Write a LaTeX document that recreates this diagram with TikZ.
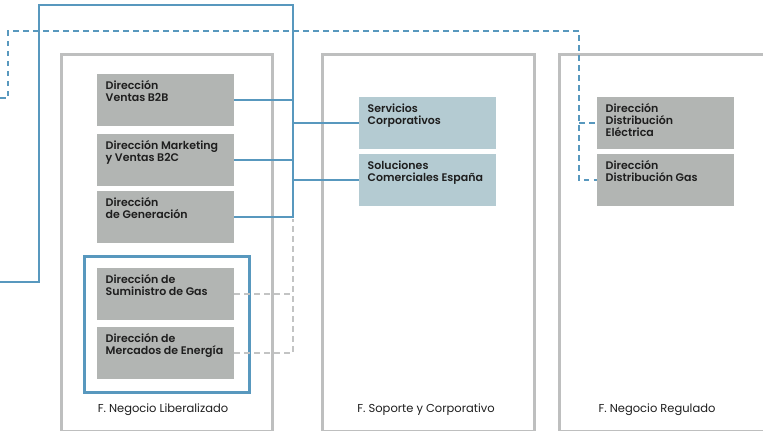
\documentclass[tikz,border=0pt]{standalone}
\usepackage{fontspec}
\setmainfont{Poppins}
\newfontfamily\boxfont{Poppins}[UprightFont=* SemiBold]
\definecolor{boxgray}{RGB}{178,181,179}
\definecolor{boxblue}{RGB}{180,203,210}
\definecolor{lineblue}{RGB}{88,152,190}
\definecolor{colgray}{RGB}{190,191,191}
\definecolor{dashgray}{RGB}{195,196,196}
\definecolor{txt}{RGB}{30,30,30}
\tikzset{
  colbox/.style={draw=colgray, line width=2.5pt},
  dirbox/.style={fill=boxgray, draw=none, minimum width=137pt, minimum height=52pt, inner sep=0pt},
  corpbox/.style={fill=boxblue, draw=none, minimum width=137pt, minimum height=52pt, inner sep=0pt},
  boxtext/.style={anchor=north west, align=left, inner sep=0pt, font=\boxfont\fontsize{11}{11.8}\selectfont, text=txt},
  coltext/.style={inner sep=0pt, font=\fontsize{11.5}{13}\selectfont, text=txt},
  blueline/.style={draw=lineblue, line width=2.5pt},
  bluedot/.style={draw=lineblue, line width=2.5pt, dash pattern=on 5.5pt off 4.5pt},
  graydot/.style={draw=dashgray, line width=2.5pt, dash pattern=on 5.5pt off 4.5pt}
}
\begin{document}
\begin{tikzpicture}[x=1pt,y=-1pt]
\useasboundingbox (0,0) rectangle (763,431);
% columns
\node[colbox, minimum width=211pt, minimum height=377pt, anchor=north west, inner sep=0pt] (colL) at (60,53) {};
\node[colbox, minimum width=212pt, minimum height=377pt, anchor=north west, inner sep=0pt] (colM) at (321,53) {};
\node[colbox, minimum width=215pt, minimum height=377pt, anchor=north west, inner sep=0pt] (colR) at (558,53) {};
\node[coltext] (labL) at (163,410) {F. Negocio Liberalizado};
\node[coltext] (labM) at (426,410) {F. Soporte y Corporativo};
\node[coltext] (labR) at (657,410) {F. Negocio Regulado};
% blue frame
\node[draw=lineblue, line width=2.5pt, minimum width=165pt, minimum height=136pt, anchor=north west, inner sep=0pt] (gasframe) at (83,255) {};
% left boxes
\node[dirbox, anchor=north west] (b2b) at (97,74) {};
\node[dirbox, anchor=north west] (b2c) at (97,134) {};
\node[dirbox, anchor=north west] (gen) at (97,191) {};
\node[dirbox, anchor=north west] (sum) at (97,268) {};
\node[dirbox, anchor=north west] (mer) at (97,327) {};
\node[boxtext] (tb2b) at ([shift={(8.5pt,-6.5pt)}]b2b.north west) {Dirección\\Ventas B2B};
\node[boxtext] (tb2c) at ([shift={(8.5pt,-6.5pt)}]b2c.north west) {Dirección Marketing\\y Ventas B2C};
\node[boxtext] (tgen) at ([shift={(8.5pt,-6.5pt)}]gen.north west) {Dirección\\de Generación};
\node[boxtext] (tsum) at ([shift={(8.5pt,-6.5pt)}]sum.north west) {Dirección de\\Suministro de Gas};
\node[boxtext] (tmer) at ([shift={(8.5pt,-6.5pt)}]mer.north west) {Dirección de\\Mercados de Energía};
% middle boxes
\node[corpbox, anchor=north west] (serv) at (359,97) {};
\node[corpbox, anchor=north west] (sol) at (359,154) {};
\node[boxtext] (tserv) at ([shift={(8.5pt,-6.5pt)}]serv.north west) {Servicios\\Corporativos};
\node[boxtext] (tsol) at ([shift={(8.5pt,-6.5pt)}]sol.north west) {Soluciones\\Comerciales España};
% right boxes
\node[dirbox, anchor=north west] (elec) at (597,97) {};
\node[dirbox, anchor=north west] (dgas) at (597,154) {};
\node[boxtext] (telec) at ([shift={(8.5pt,-6.5pt)}]elec.north west) {Dirección\\Distribución\\Eléctrica};
\node[boxtext] (tdgas) at ([shift={(8.5pt,-6.5pt)}]dgas.north west) {Dirección\\Distribución Gas};
% coordinates
\coordinate (bus) at (293,5);
\coordinate (leftend) at (0,282);
\coordinate (leftcorner) at (39,282);
\coordinate (topleft) at (39,5);
\coordinate (dotbus) at (579,31);
\coordinate (dotleft) at (0,98);
\coordinate (dotcorner) at (8,98);
\coordinate (dottop) at (8,31);
\coordinate (graytop) at (293,219);
% gray dashed connectors
\draw[graydot] (sum.east) -- (sum.east -| bus);
\draw[graydot] (mer.east) -- (mer.east -| bus) -- (graytop);
% blue solid connectors
\draw[blueline, line join=miter] (leftend) -- (leftcorner) -- (topleft) -- (bus) -- (gen.east -| bus) -- (gen.east);
\draw[blueline] (b2b.east) -- (b2b.east -| bus);
\draw[blueline] (b2c.east) -- (b2c.east -| bus);
\draw[blueline] (serv.west -| bus) -- (serv.west);
\draw[blueline] (sol.west -| bus) -- (sol.west);
% blue dotted connectors
\draw[bluedot] (dotleft) -- (dotcorner) -- (dottop) -- (dotbus) -- (dgas.west -| dotbus) -- (dgas.west);
\draw[bluedot] (elec.west -| dotbus) -- (elec.west);
\end{tikzpicture}
\end{document}
